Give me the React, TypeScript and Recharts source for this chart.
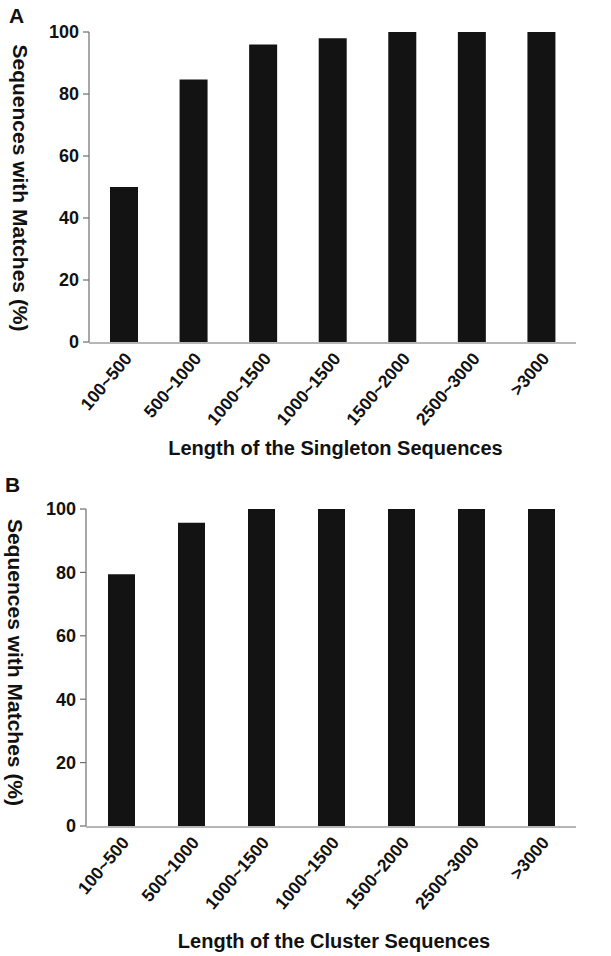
import React from "react";
import { BarChart, Bar, XAxis, YAxis } from "recharts";

const categories = ["100~500", "500~1000", "1000~1500", "1000~1500", "1500~2000", "2500~3000", ">3000"];
const singletonValues = [50, 84.7, 96, 98, 100, 100, 100];
const clusterValues = [79.4, 95.7, 100, 100, 100, 100, 100];
const yTicks = [0, 20, 40, 60, 80, 100];
const boundaryTicks = [0, 1, 2, 3, 4, 5, 6, 7];

const FONT = "'Liberation Sans', Arial, Helvetica, sans-serif";
const AXIS = "#6e6e6e";
const BAR = "#131313";

const dataA = categories.map((c, i) => ({ cat: c, v: singletonValues[i] }));
const dataB = categories.map((c, i) => ({ cat: c, v: clusterValues[i] }));

const XTick = ({ x, y, payload }: any) => (
  <g transform={`translate(${x + 9},${y + 17})`}>
    <text
      textAnchor="end"
      transform="rotate(-50)"
      fontSize={17.5}
      fontWeight="bold"
      fill="#111"
      fontFamily={FONT}
    >
      {payload.value}
    </text>
  </g>
);

const makeXTitle = (text: string, dy: number) => (props: any) => {
  const vb = props.viewBox || {};
  const cx = vb.x + vb.width / 2 + 3;
  const cy = vb.y + dy;
  return (
    <text x={cx} y={cy} textAnchor="middle" dominantBaseline="central" fontSize={20} fontWeight="bold" fill="#111" fontFamily={FONT}>
      {text}
    </text>
  );
};

const makeYTitle = (text: string, cxAbs: number, dyShift: number) => (props: any) => {
  const vb = props.viewBox || {};
  const cx = vb.x + cxAbs;
  const cy = vb.y + vb.height / 2 + dyShift;
  return (
    <text x={cx} y={cy} transform={`rotate(90 ${cx} ${cy})`} textAnchor="middle" dominantBaseline="central" fontSize={21} fontWeight="bold" fill="#111" fontFamily={FONT}>
      {text}
    </text>
  );
};

type PanelProps = {
  data: { cat: string; v: number }[];
  height: number;
  margin: { top: number; right: number; bottom: number; left: number };
  yWidth: number;
  barSize: number;
  xTitle: string;
  xTitleDy: number;
  yTitleX: number;
  yTitleShift: number;
};

const Panel = ({ data, height, margin, yWidth, barSize, xTitle, xTitleDy, yTitleX, yTitleShift }: PanelProps) => (
  <BarChart width={611} height={height} data={data} margin={margin}>
    <XAxis
      xAxisId="grid"
      type="number"
      domain={[0, 7]}
      ticks={boundaryTicks}
      allowDataOverflow
      height={1}
      tick={false}
      tickSize={6}
      axisLine={{ stroke: AXIS, strokeWidth: 1.2 }}
      tickLine={{ stroke: AXIS, strokeWidth: 1.2 }}
    />
    <XAxis
      xAxisId="cat"
      dataKey="cat"
      height={1}
      interval={0}
      axisLine={false}
      tickLine={false}
      tickSize={0}
      tickMargin={0}
      tick={<XTick />}
      label={{ content: makeXTitle(xTitle, xTitleDy) } as any}
    />
    <YAxis
      width={yWidth}
      domain={[0, 100]}
      ticks={yTicks}
      interval={0}
      tickSize={6}
      tickMargin={4}
      axisLine={{ stroke: AXIS, strokeWidth: 1.2 }}
      tickLine={{ stroke: AXIS, strokeWidth: 1.2 }}
      tick={{ fontSize: 18, fontWeight: "bold", fill: "#111", fontFamily: FONT }}
      label={{ content: makeYTitle("Sequences with Matches (%)", yTitleX, yTitleShift) } as any}
    />
    <Bar xAxisId="cat" dataKey="v" fill={BAR} barSize={barSize} isAnimationActive={false} />
  </BarChart>
);

const letterStyle: React.CSSProperties = {
  position: "absolute",
  fontFamily: FONT,
  fontWeight: "bold",
  fontSize: 21,
  color: "#111",
  lineHeight: 1,
};

export default function App() {
  return (
    <div style={{ position: "absolute", left: 0, top: 0, width: 611, height: 956, background: "#fff", overflow: "hidden" }}>
      <div style={{ ...letterStyle, left: 9, top: 5 }}>A</div>
      <div style={{ ...letterStyle, left: 5, top: 474 }}>B</div>
      <div style={{ position: "absolute", left: 0, top: 0 }}>
        <Panel
          data={dataA}
          height={478}
          margin={{ top: 32, right: 35, bottom: 134, left: 0 }}
          yWidth={89}
          barSize={28}
          xTitle="Length of the Singleton Sequences"
          xTitleDy={106}
          yTitleX={20}
          yTitleShift={1}
        />
      </div>
      <div style={{ position: "absolute", left: 0, top: 470 }}>
        <Panel
          data={dataB}
          height={486}
          margin={{ top: 39, right: 35, bottom: 128, left: 0 }}
          yWidth={86}
          barSize={27}
          xTitle="Length of the Cluster Sequences"
          xTitleDy={115}
          yTitleX={15}
          yTitleShift={-5}
        />
      </div>
    </div>
  );
}
